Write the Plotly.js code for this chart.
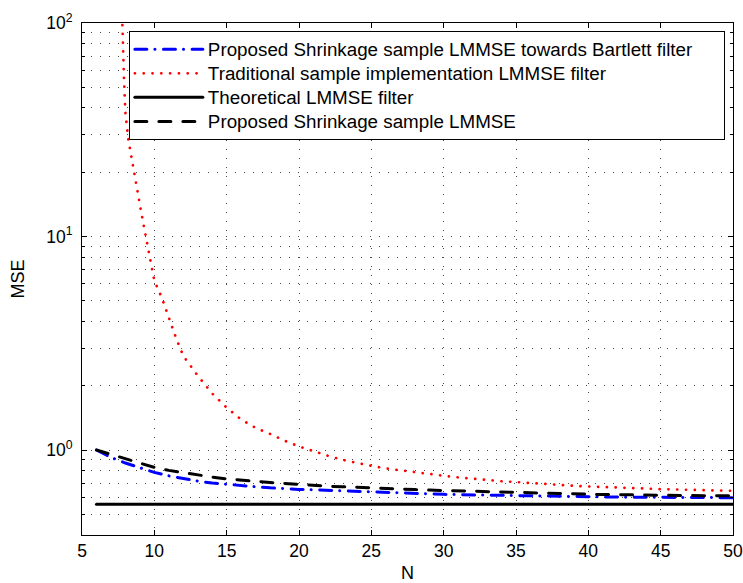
<!DOCTYPE html>
<html><head><meta charset="utf-8">
<script src="https://cdn.plot.ly/plotly-3.0.1.min.js"></script>
<style>
html,body{margin:0;padding:0;background:#fff}
#chart{width:743px;height:583px}
path.js-line{stroke-linecap:round}
</style></head><body><div id="chart"></div>
<script>
// ---- data ----
var N = [6,7,8,9,10,11,12,13,14,15,16,17,18,19,20,21,22,23,24,25,26,27,28,29,30,31,32,33,34,35,36,37,38,39,40,41,42,43,44,45,46,47,48,49,50];

var bartlettMSE = [1.000,0.924,0.869,0.826,0.786,0.757,0.733,0.715,0.701,0.690,0.680,0.673,0.665,0.658,0.654,0.651,0.647,0.644,0.640,0.636,0.632,0.628,0.625,0.622,0.620,0.618,0.616,0.614,0.612,0.610,0.609,0.608,0.606,0.605,0.604,0.603,0.602,0.601,0.600,0.599,0.599,0.599,0.598,0.598,0.598];

var shrinkMSE = [1.000,0.954,0.905,0.863,0.829,0.803,0.783,0.763,0.747,0.733,0.721,0.713,0.705,0.697,0.690,0.682,0.677,0.673,0.668,0.663,0.660,0.657,0.653,0.649,0.646,0.644,0.641,0.639,0.637,0.635,0.632,0.629,0.626,0.623,0.621,0.619,0.617,0.615,0.614,0.613,0.612,0.612,0.611,0.611,0.610];

var tradN = [7.7,7.8,7.9,8.0,8.2,8.4,8.6,8.8,9.0,9.25,9.5,9.75,10,10.5,11,11.5,12,13,14,15,16,17,18,19,20,21,22,23,24,25,26,27,28,29,30,31,32,33,34,35,36,37,38,39,40,41,42,43,44,45,46,47,48,49,50];
var tradMSE = [130,95,55,38,28.5,23.6,19.8,16.8,14.1,11.4,9.3,7.6,6.2,5.2,4.13,3.35,2.76,2.23,1.84,1.58,1.39,1.27,1.19,1.106,1.04,0.986,0.94,0.90,0.87,0.843,0.82,0.803,0.785,0.769,0.758,0.745,0.733,0.722,0.714,0.708,0.700,0.692,0.685,0.680,0.675,0.670,0.667,0.663,0.660,0.656,0.654,0.652,0.649,0.647,0.644];

var theoryN = [6, 50];
var theoryMSE = [0.557, 0.557];

var seriesNames = [
  'Proposed Shrinkage sample LMMSE towards Bartlett filter',
  'Traditional sample implementation LMMSE filter',
  'Theoretical LMMSE filter',
  'Proposed Shrinkage sample LMMSE'
];

var xTickVals = [5,10,15,20,25,30,35,40,45,50];
var yTickVals = [1, 10, 100];
var yTickText = ['10<sup>0</sup>', '10<sup>1</sup>', '10<sup>2</sup>'];
var yMinorVals = [0.4,0.5,0.6,0.7,0.8,0.9,2,3,4,5,6,7,8,9,20,30,40,50,60,70,80,90];

// ---- plot ----
var FONT = '"Liberation Sans", Arial, Helvetica, sans-serif';
var gridC = '#4a4a4a';
// larger glyphs than the legend row height font; trailing blank room widens the legend box
function legendLabel(s, pad) {
  return '<span style="font-size:18.8px">' + s + (pad ? '\u00a0'.repeat(pad) : '') + '</span>';
}

var traces = [
  {x: N, y: bartlettMSE, name: legendLabel(seriesNames[0], 5), mode: 'lines',
   line: {color: 'rgb(0,0,255)', width: 3, dash: '12px,8px,0.1px,8.5px'}},
  {x: tradN, y: tradMSE, name: legendLabel(seriesNames[1]), mode: 'lines',
   line: {color: 'rgb(255,0,0)', width: 2.7, dash: '0.1px,8.7px'}},
  {x: theoryN, y: theoryMSE, name: legendLabel(seriesNames[2]), mode: 'lines',
   line: {color: 'black', width: 3}},
  {x: N, y: shrinkMSE, name: legendLabel(seriesNames[3]), mode: 'lines',
   line: {color: 'black', width: 3, dash: '12px,12px'}}
];

var layout = {
  width: 743, height: 583,
  paper_bgcolor: 'white', plot_bgcolor: 'white',
  margin: {l: 82, r: 10, t: 23, b: 48, autoexpand: false},
  font: {family: FONT, color: 'black', size: 17.5},
  showlegend: true,
  legend: {
    x: 0.072, y: 0.984, xanchor: 'left', yanchor: 'top',
    bgcolor: 'white', bordercolor: 'black', borderwidth: 1,
    font: {family: FONT, size: 16.2, color: 'black'},
    itemwidth: 68, tracegroupgap: 0
  },
  xaxis: {
    range: [5, 50], tickmode: 'array', tickvals: xTickVals,
    ticks: 'inside', ticklen: 5, tickcolor: 'black',
    showline: true, linecolor: 'black', linewidth: 1, mirror: 'ticks',
    showgrid: true, gridcolor: gridC, gridwidth: 1, griddash: '1px,8px',
    zeroline: false,
    tickfont: {family: FONT, size: 17.5, color: 'black'},
    title: {text: 'N', font: {family: FONT, size: 18, color: 'black'}, standoff: 11}
  },
  yaxis: {
    type: 'log', range: [Math.log10(0.4), 2],
    tickmode: 'array', tickvals: yTickVals, ticktext: yTickText,
    ticks: 'inside', ticklen: 5, tickcolor: 'black', ticklabelstandoff: 5,
    showline: true, linecolor: 'black', linewidth: 1, mirror: 'ticks',
    showgrid: true, gridcolor: gridC, gridwidth: 1, griddash: '1px,8px',
    zeroline: false,
    minor: {tickmode: 'array', tickvals: yMinorVals, ticks: 'inside', ticklen: 3,
            tickcolor: 'black', showgrid: true, gridcolor: gridC, gridwidth: 1, griddash: '1px,8px'},
    tickfont: {family: FONT, size: 17.5, color: 'black'},
    title: {text: 'MSE', font: {family: FONT, size: 18, color: 'black'}, standoff: 16}
  }
};

Plotly.newPlot('chart', traces, layout, {staticPlot: true, displayModeBar: false});
</script>
</body></html>
